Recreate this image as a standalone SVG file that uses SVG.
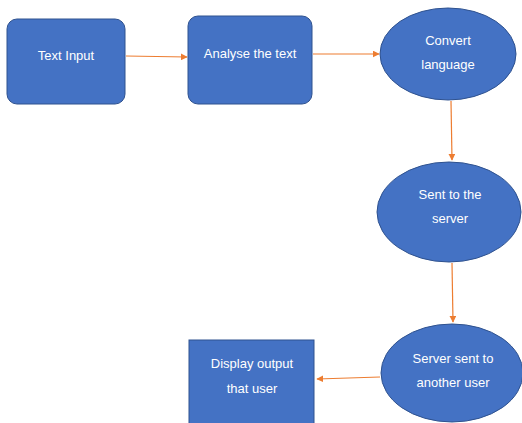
<svg xmlns="http://www.w3.org/2000/svg" width="522" height="423" viewBox="0 0 522 423">
<defs>
<style>
.n{fill:#4472C4;stroke:#2F528F;stroke-width:1}
.t{fill:#ffffff;font-family:"Liberation Sans",Arial,sans-serif;font-size:13px;text-anchor:middle}
.c{stroke:#ED7D31;stroke-width:1.2;fill:none;marker-end:url(#a)}
</style>
<marker id="a" viewBox="0 0 10 10" refX="9" refY="5" markerWidth="7" markerHeight="7" orient="auto" markerUnits="userSpaceOnUse">
<path d="M0,0 L10,5 L0,10 z" fill="#ED7D31"/>
</marker>
</defs>
<rect width="522" height="423" fill="#ffffff"/>
<g id="connectors">
<line class="c" x1="126" y1="56" x2="187" y2="57"/>
<line class="c" x1="313" y1="54" x2="379" y2="54"/>
<line class="c" x1="451" y1="101" x2="452" y2="160"/>
<line class="c" x1="452" y1="263" x2="453" y2="322"/>
<line class="c" x1="380" y1="377" x2="317" y2="379"/>
</g>
<g id="text-input">
<rect class="n" x="7" y="19" width="118" height="85" rx="10"/>
<text class="t" x="66" y="60">Text Input</text>
</g>
<g id="analyse">
<rect class="n" x="188" y="16" width="124" height="88" rx="10"/>
<text class="t" x="250" y="58">Analyse the text</text>
</g>
<g id="convert">
<ellipse class="n" cx="448" cy="54" rx="68" ry="46"/>
<text class="t" x="448" y="45">Convert</text>
<text class="t" x="448" y="69">language</text>
</g>
<g id="sent">
<ellipse class="n" cx="449" cy="212" rx="72" ry="50"/>
<text class="t" x="450" y="199">Sent to the</text>
<text class="t" x="450" y="223">server</text>
</g>
<g id="server-sent">
<ellipse class="n" cx="452" cy="373" rx="71" ry="49"/>
<text class="t" x="453" y="363">Server sent to</text>
<text class="t" x="453" y="387">another user</text>
</g>
<g id="display">
<rect class="n" x="189" y="340" width="125" height="84"/>
<text class="t" x="252" y="368">Display output</text>
<text class="t" x="252" y="393">that user</text>
</g>
</svg>
